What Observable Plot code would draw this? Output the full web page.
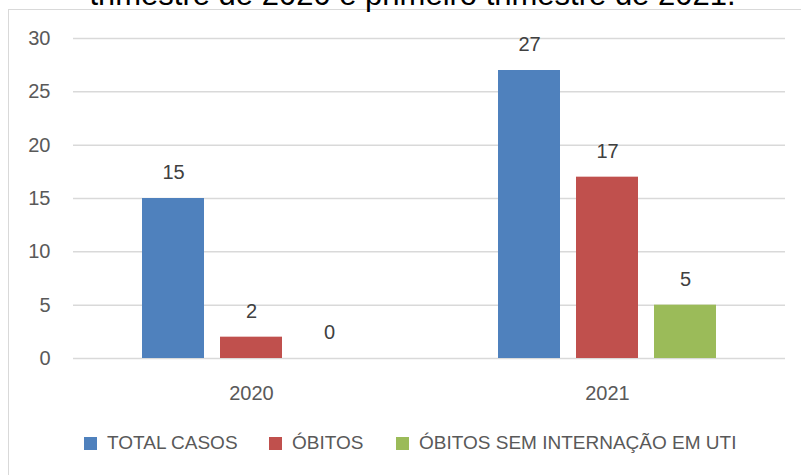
<!DOCTYPE html>
<html>
<head>
<meta charset="utf-8">
<script src="https://cdn.jsdelivr.net/npm/d3@7"></script>
<script src="https://cdn.jsdelivr.net/npm/@observablehq/plot@0.6"></script>
<style>
  html, body { margin: 0; padding: 0; background: #fff; }
  #wrap { position: relative; width: 801px; height: 475px; overflow: hidden; background: #fff; font-family: "Liberation Sans", Arial, sans-serif; }
  #frame { position: absolute; left: 8px; top: 9px; width: 900px; height: 600px; border: 1.5px solid #d9d9d9; box-sizing: border-box; }
  #title { position: absolute; left: 0; width: 825px; top: -21px; text-align: center; font-size: 31px; line-height: 31px; color: #000; white-space: nowrap; }
  #chart { position: absolute; left: 0; top: 0; }
  .leg { position: absolute; top: 433px; display: flex; align-items: center; font-size: 19px; color: #595959; white-space: nowrap; line-height: 20px; }
  .sw { width: 13px; height: 13px; margin-right: 10px; }
</style>
</head>
<body>
<div id="wrap">
  <div id="frame"></div>
  <div id="title">trimestre de 2020 e primeiro trimestre de 2021.</div>
  <div id="chart"></div>
  <div id="legend"></div>
</div>
<script>
const years = ["2020", "2021"];
const seriesNames = ["TOTAL CASOS", "ÓBITOS", "ÓBITOS SEM INTERNAÇÃO EM UTI"];
const totalCasos = [15, 27];
const obitos = [2, 17];
const obitosSemUti = [0, 5];
const colors = ["#4f81bd", "#c0504d", "#9bbb59"];
const yTicks = [0, 5, 10, 15, 20, 25, 30];

const seriesValues = [totalCasos, obitos, obitosSemUti];
const data = [];
years.forEach((yr, i) => {
  seriesNames.forEach((s, j) => {
    data.push({ year: yr, series: s, value: seriesValues[j][i] });
  });
});

const chart = Plot.plot({
  width: 801,
  height: 410,
  marginTop: 38,
  marginBottom: 52,
  marginLeft: 73,
  marginRight: 16,
  style: { fontFamily: "Liberation Sans, Arial, sans-serif", fontSize: "20px", background: "transparent" },
  fx: { domain: years, padding: 0, label: null },
  x: { domain: seriesNames, paddingInner: 0.21, paddingOuter: 0.87, axis: null },
  y: { domain: [0, 30], label: null },
  color: { domain: seriesNames, range: colors },
  marks: [
    Plot.ruleY(yTicks, { stroke: "#d9d9d9", strokeWidth: 1.5 }),
    Plot.barY(data, { fx: "year", x: "series", y: "value", fill: "series" }),
    Plot.text(data, { fx: "year", x: "series", y: "value", text: d => String(d.value), dy: -26, fontSize: 20, fill: "#404040" }),
    Plot.axisY(yTicks, { tickSize: 0, tickPadding: 23, fontSize: 20, color: "#595959", label: null }),
    Plot.axisFx({ anchor: "bottom", tickSize: 0, tickPadding: 27, fontSize: 20, color: "#595959", label: null })
  ]
});
document.getElementById("chart").appendChild(chart);

const legendLefts = [84, 269, 396];
const legend = document.getElementById("legend");
seriesNames.forEach((s, j) => {
  const item = document.createElement("div");
  item.className = "leg";
  item.style.left = legendLefts[j] + "px";
  const sw = document.createElement("div");
  sw.className = "sw";
  sw.style.background = colors[j];
  const t = document.createElement("span");
  t.textContent = s;
  item.appendChild(sw);
  item.appendChild(t);
  legend.appendChild(item);
});
</script>
</body>
</html>
